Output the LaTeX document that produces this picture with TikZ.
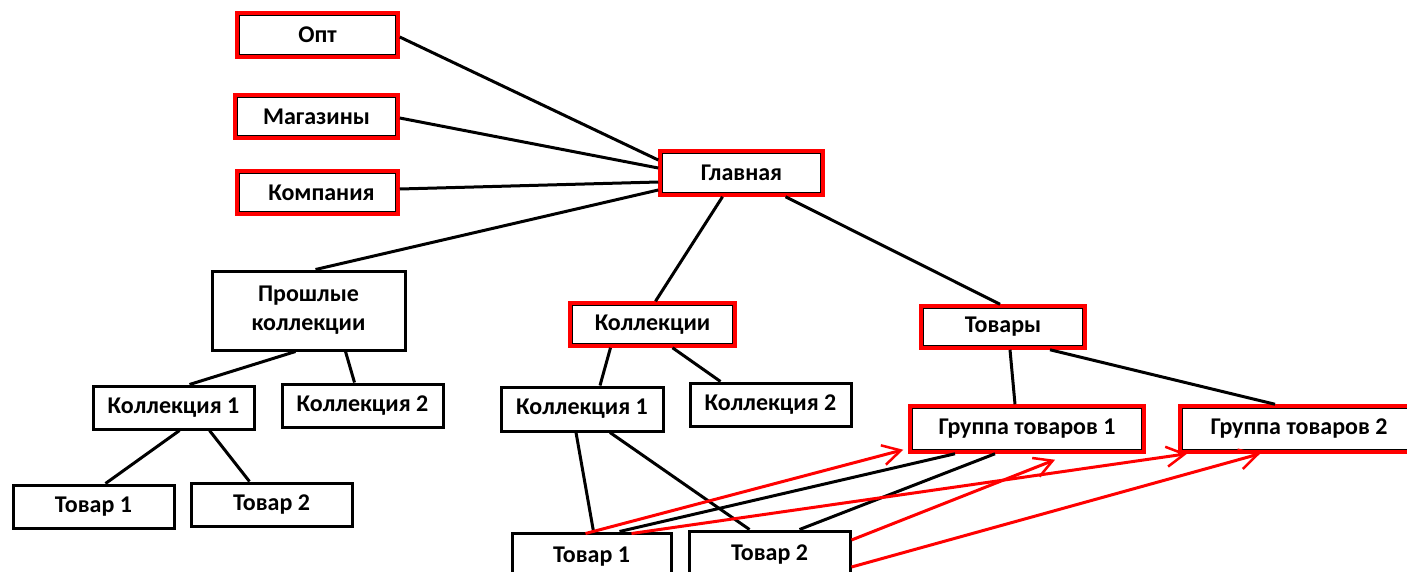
\documentclass[tikz,border=0pt]{standalone}
\usepackage{fontspec}
\setmainfont{Carlito}
\usetikzlibrary{arrows.meta}
\begin{document}
\begin{tikzpicture}[x=1pt,y=-1pt,
  bx/.style={draw=black, line width=3pt, fill=white, inner sep=0pt, align=center,
     font=\bfseries\fontsize{24}{29}\selectfont},
  rbx/.style={bx, draw=red, line width=3.5pt,
     path picture={\draw[black,line width=1.6pt]
       ([shift={(2.6pt,-2.6pt)}]path picture bounding box.north west) rectangle
       ([shift={(-2.6pt,2.6pt)}]path picture bounding box.south east);}},
  ln/.style={draw=black, line width=3pt},
  rarr/.style={draw=red, line width=3pt, -{Straight Barb[length=18pt,width=20pt,line width=2.5pt]}}
]
\useasboundingbox (0,0) rectangle (1407,571);
\clip (0,0) rectangle (1407,571);
% nodes
\node[rbx, minimum width=161, minimum height=44] (opt) at (317.5,35) {Опт};
\node[rbx, minimum width=163, minimum height=43] (mag) at (316.5,116.5) {Магазины};
\node[rbx, minimum width=161, minimum height=43] (komp) at (317.5,192.5) {\hspace*{8pt}Компания};
\node[rbx, minimum width=163, minimum height=44] (glav) at (741.5,173) {Главная};
\node[bx, minimum width=193, minimum height=79] (prosh) at (308.5,310.5) {Прошлые\\коллекции};
\node[rbx, minimum width=165, minimum height=43] (koll) at (652.5,324.5) {Коллекции};
\node[rbx, minimum width=164, minimum height=42] (tov) at (1003,327) {Товары};
\node[bx, minimum width=161, minimum height=43] (lk1) at (173.5,407.5) {Коллекция 1};
\node[bx, minimum width=161, minimum height=43] (lk2) at (362.5,405.5) {Коллекция 2};
\node[bx, minimum width=161, minimum height=43] (lt1) at (93.5,506.5) {Товар 1};
\node[bx, minimum width=161, minimum height=43] (lt2) at (271.5,504.5) {Товар 2};
\node[bx, minimum width=162, minimum height=44] (mk1) at (582,409) {Коллекция 1};
\node[bx, minimum width=161, minimum height=43] (mk2) at (770.5,404.5) {Коллекция 2};
\node[rbx, minimum width=234, minimum height=46] (g1) at (1027,429) {Группа товаров 1};
\node[rbx, minimum width=234, minimum height=46] (g2) at (1297,429) {\hspace*{4pt}Группа товаров 2};
\node[bx, minimum width=159, minimum height=48] (bt1) at (591.5,557) {Товар 1};
\node[bx, minimum width=161, minimum height=48] (bt2) at (769.5,555) {Товар 2};
% black connectors
\draw[ln] ([yshift=-2pt]opt.east) -- ([yshift=13pt]glav.west);
\draw[ln] ([yshift=-1.5pt]mag.east) -- ([yshift=5pt]glav.west);
\draw[ln] ([yshift=3.5pt]komp.east) -- ([yshift=-9pt]glav.west);
\draw[ln] ([yshift=-17pt]glav.west) -- ([xshift=7pt]prosh.north);
\draw[ln] ([xshift=-19pt]glav.south) -- ([xshift=3pt]koll.north);
\draw[ln] ([xshift=44pt]glav.south) -- ([xshift=-3pt]tov.north);
\draw[ln] ([xshift=-13pt]prosh.south) -- ([xshift=16pt]lk1.north);
\draw[ln] ([xshift=37pt]prosh.south) -- ([xshift=-8pt]lk2.north);
\draw[ln] ([xshift=6pt]lk1.south) -- ([xshift=12pt]lt1.north);
\draw[ln] ([xshift=36pt]lk1.south) -- ([xshift=-22pt]lt2.north);
\draw[ln] ([xshift=-42pt]koll.south) -- ([xshift=18pt]mk1.north);
\draw[ln] ([xshift=20pt]koll.south) -- ([xshift=-50pt]mk2.north);
\draw[ln] ([xshift=7pt]tov.south) -- ([xshift=-12pt]g1.north);
\draw[ln] ([xshift=47pt]tov.south) -- ([xshift=-22pt]g2.north);
\draw[ln] ([xshift=-6pt]mk1.south) -- ([xshift=2pt]bt1.north);
\draw[ln] ([xshift=28pt]mk1.south) -- ([xshift=-20pt]bt2.north);
\draw[ln] ([xshift=-72pt]g1.south) -- ([xshift=28pt]bt1.north);
\draw[ln] ([xshift=-32pt]g1.south) -- ([xshift=30pt]bt2.north);
% red arrows
\coordinate (a1) at ([xshift=-6pt,yshift=-2pt]bt1.north);
\coordinate (a2) at ([xshift=40pt,yshift=-2pt]bt1.north);
\coordinate (a3) at ([yshift=15pt]bt2.east);
\coordinate (a4) at ([yshift=-12pt]bt2.east);
\draw[rarr] (a1) -- ([xshift=-5pt,yshift=4pt]g1.south west);
\draw[rarr] (a2) -- ([xshift=-110pt]g2.south);
\draw[rarr] (a3) -- ([xshift=28pt,yshift=-6pt]g1.south);
\draw[rarr] (a4) -- ([xshift=-37pt]g2.south);
\end{tikzpicture}
\end{document}
